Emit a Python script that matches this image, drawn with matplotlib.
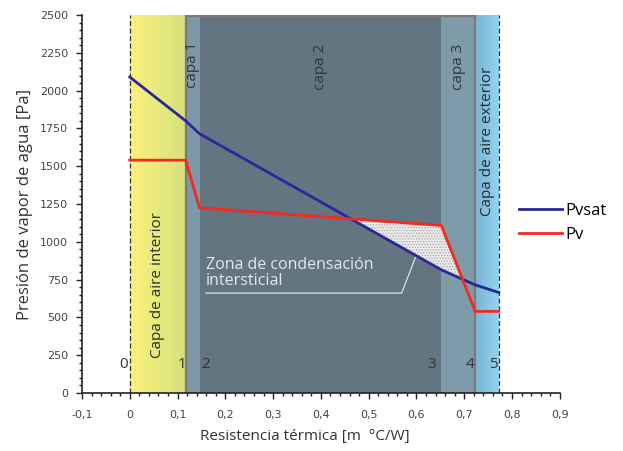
import matplotlib

matplotlib.use("Agg")
import matplotlib.pyplot as plt
import numpy as np
from matplotlib.colors import LinearSegmentedColormap
from matplotlib.font_manager import FontProperties, fontManager
from matplotlib.ticker import MultipleLocator

plt.rcParams["font.family"] = ["Open Sans", "DejaVu Sans"]
plt.rcParams["hatch.color"] = "#9a9a9a"
plt.rcParams["hatch.linewidth"] = 0.6

# Layer boundaries (thermal resistance, m2 C/W)
bounds = [0.0, 0.117, 0.146, 0.652, 0.723, 0.772]
bound_labels = ["0", "1", "2", "3", "4", "5"]
layer_names = ["capa 1", "capa 2", "capa 3"]

# Saturation pressure and vapour pressure along the wall
pvsat_x = [0.0, 0.117, 0.146, 0.652, 0.723, 0.772]
pvsat_y = [2090, 1800, 1715, 815, 715, 665]
pv_x = [0.0, 0.117, 0.146, 0.652, 0.723, 0.772]
pv_y = [1540, 1540, 1225, 1108, 540, 540]

xticks = [-0.1, 0, 0.1, 0.2, 0.3, 0.4, 0.5, 0.6, 0.7, 0.8, 0.9]
xtick_labels = ["-0,1", "0", "0,1", "0,2", "0,3", "0,4", "0,5", "0,6", "0,7", "0,8", "0,9"]
yticks = [0, 250, 500, 750, 1000, 1250, 1500, 1750, 2000, 2250, 2500]

# narrow face for the tick labels, if there is one
names = {f.name for f in fontManager.ttflist}
tick_family = "Liberation Sans Narrow" if "Liberation Sans Narrow" in names else "DejaVu Sans"
tick_font = FontProperties(family=tick_family, size=8)

fig = plt.figure(figsize=(6.23, 4.51), dpi=100)
ax = fig.add_axes([0.1316, 0.1286, 0.767, 0.838])

ymax = 2500
# inner air layer: yellow gradient
grad = np.linspace(0, 1, 64).reshape(1, -1)
ax.imshow(grad, extent=[bounds[0], bounds[1], 0, ymax], aspect="auto", zorder=0,
          cmap=LinearSegmentedColormap.from_list("y", ["#faf27c", "#d6e07e"]))
# outer air layer: light blue gradient
ax.imshow(grad, extent=[bounds[4], bounds[5], 0, ymax], aspect="auto", zorder=0,
          cmap=LinearSegmentedColormap.from_list("b", ["#78b4d2", "#94d4f0"]))
# solid layers
ax.axvspan(bounds[1], bounds[2], color="#7e98a8", lw=0, zorder=0)
ax.axvspan(bounds[2], bounds[3], color="#627580", lw=0, zorder=0)
ax.axvspan(bounds[3], bounds[4], color="#7f9aa8", lw=0, zorder=0)
ax.plot([bounds[1], bounds[1], bounds[4], bounds[4]], [0, ymax - 8, ymax - 8, 0],
        color="#7a7a7a", lw=1.6, zorder=1, solid_joinstyle="miter")
ax.axvline(bounds[0], color="#333333", lw=0.9, ls=(0, (4, 2)), zorder=2)
ax.axvline(bounds[5], color="#333333", lw=0.9, ls=(0, (4, 2)), zorder=2)

# condensation zone (hatched)
xx = np.linspace(bounds[0], bounds[5], 800)
sat = np.interp(xx, pvsat_x, pvsat_y)
vap = np.interp(xx, pv_x, pv_y)
ax.fill_between(xx, sat, vap, where=vap > sat, facecolor="#ececec",
                edgecolor="#a0a0a0", hatch="......", lw=0, zorder=2)

ax.plot(pvsat_x, pvsat_y, color="#28289a", lw=2.0, label="Pvsat", zorder=4)
ax.plot(pv_x, pv_y, color="#f52a1e", lw=2.0, label="Pv", zorder=4)

# annotation for condensation zone
ax.plot([0.159, 0.569, 0.600], [661, 661, 915], color="#dde3e6", lw=0.9, zorder=3)
ax.text(0.160, 690, "Zona de condensación\nintersticial", color="#e3e8ea",
        fontsize=11.5, ha="left", va="bottom", linespacing=0.95, zorder=3)

# layer labels
ax.text(0.132, 2170, layer_names[0], rotation=90, ha="center", va="center",
        fontsize=11, color="#2b3a42")
ax.text(0.40, 2160, layer_names[1], rotation=90, ha="center", va="center",
        fontsize=11, color="#2b3a42")
ax.text(0.688, 2160, layer_names[2], rotation=90, ha="center", va="center",
        fontsize=11, color="#2b3a42")
ax.text(0.057, 715, "Capa de aire interior", rotation=90, ha="center",
        va="center", fontsize=11, color="#2a2a2a")
ax.text(0.748, 1665, "Capa de aire exterior", rotation=90, ha="center",
        va="center", fontsize=11, color="#2a2a2a")

offs = [-0.012, -0.008, 0.012, -0.02, -0.012, -0.012]
for b, lab, o in zip(bounds, bound_labels, offs):
    ax.text(b + o, 190, lab, ha="center", va="center", fontsize=11,
            color="#333333", zorder=5)

ax.set_xlim(-0.1, 0.9)
ax.set_ylim(0, ymax)
ax.set_xticks(xticks)
ax.set_xticklabels(xtick_labels, fontproperties=tick_font)
ax.set_yticks(yticks)
ax.set_yticklabels([str(v) for v in yticks], fontproperties=tick_font)
ax.xaxis.set_minor_locator(MultipleLocator(0.02))
ax.yaxis.set_minor_locator(MultipleLocator(50))
ax.tick_params(axis="both", which="major", colors="#222222",
               labelcolor="#444444", length=4, width=1)
ax.tick_params(axis="both", which="minor", length=2.5, width=1, colors="#222222")
ax.tick_params(axis="y", pad=6)
ax.tick_params(axis="x", pad=8)
for s in ("top", "right"):
    ax.spines[s].set_visible(False)
for s in ("left", "bottom"):
    ax.spines[s].set_linewidth(1.2)
    ax.spines[s].set_color("#222222")

ax.set_xlabel("Resistencia térmica [m  °C/W]", fontsize=11, color="#333333",
              labelpad=5)
ax.xaxis.set_label_coords(0.467, -0.095)
ax.set_ylabel("Presión de vapor de agua [Pa]", fontsize=12, color="#333333",
              labelpad=5)

ax.legend(loc="upper left", bbox_to_anchor=(0.90, 0.52), frameon=False,
          fontsize=12, handlelength=2.6, handletextpad=0.2, labelspacing=0.45,
          borderaxespad=0)

fig.savefig("out.png", dpi=100)
